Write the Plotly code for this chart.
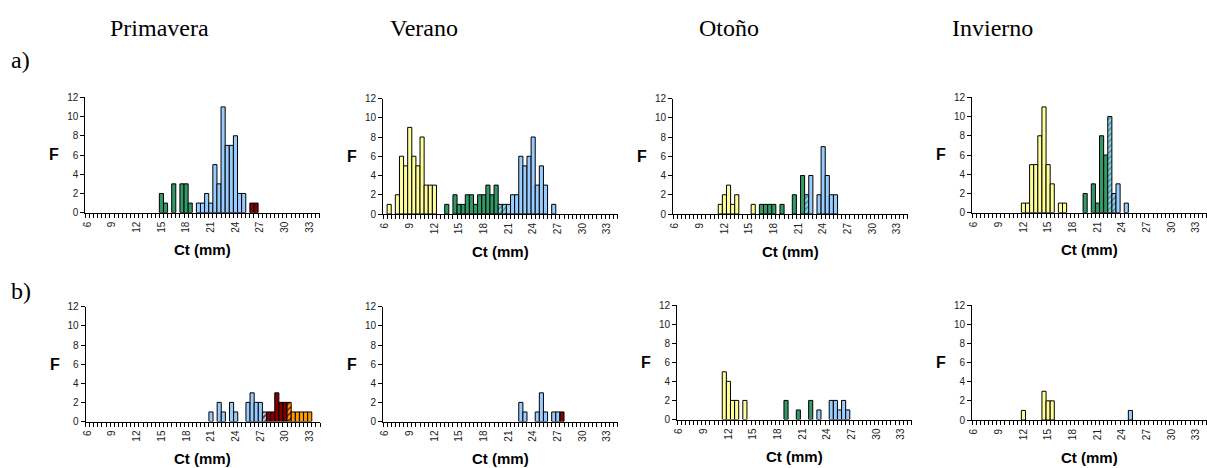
import plotly.graph_objects as go

W, H = 1207, 468

# Colours of the size groups
YELLOW = "#FFFF99"
GREEN = "#339966"
BLUE = "#99CCFF"
DARKRED = "#800000"
ORANGE = "#FF9900"

seasons = ["Primavera", "Verano", "Otoño", "Invierno"]
row_labels = ["a)", "b)"]
x_ticks = [6, 9, 12, 15, 18, 21, 24, 27, 30, 33]
y_ticks = [0, 2, 4, 6, 8, 10, 12]

# ---- a) Primavera ----
prim_a_green_ct = [15, 15.5, 16.5, 17.5, 18, 18.5]
prim_a_green_f = [2, 1, 3, 3, 3, 1]
prim_a_blue_ct = [19.5, 20, 20.5, 21, 21.5, 22, 22.5, 23, 23.5, 24, 24.5, 25]
prim_a_blue_f = [1, 1, 2, 1, 5, 3, 11, 7, 7, 8, 2, 2]
prim_a_red_ct = [26, 26.5]
prim_a_red_f = [1, 1]

# ---- a) Verano ----
ver_a_yellow_ct = [6.5, 7.5, 8, 8.5, 9, 9.5, 10, 10.5, 11, 11.5, 12]
ver_a_yellow_f = [1, 2, 6, 5, 9, 6, 5, 8, 3, 3, 3]
ver_a_green_ct = [13.5, 14.5, 15, 15.5, 16, 16.5, 17, 17.5, 18, 18.5, 19, 19.5]
ver_a_green_f = [1, 2, 1, 1, 2, 2, 1, 2, 2, 3, 2, 3]
ver_a_mix_ct = [20, 20.5]
ver_a_mix_f = [1, 1]
ver_a_blue_ct = [21, 21.5, 22, 22.5, 23, 23.5, 24, 24.5, 25, 25.5, 26.5]
ver_a_blue_f = [1, 2, 2, 6, 5, 6, 8, 3, 5, 3, 1]

# ---- a) Otoño ----
oto_a_yellow_ct = [11.5, 12, 12.5, 13, 13.5, 15.5]
oto_a_yellow_f = [1, 2, 3, 1, 2, 1]
oto_a_green_ct = [16.5, 17, 17.5, 18, 19, 20.5, 21.5]
oto_a_green_f = [1, 1, 1, 1, 1, 2, 4]
oto_a_mix_ct = [22]
oto_a_mix_f = [2]
oto_a_blue_ct = [22.5, 23.5, 24, 24.5, 25, 25.5]
oto_a_blue_f = [4, 2, 7, 4, 2, 2]

# ---- a) Invierno ----
inv_a_yellow_ct = [12, 12.5, 13, 13.5, 14, 14.5, 15, 15.5, 16.5, 17]
inv_a_yellow_f = [1, 1, 5, 5, 8, 11, 5, 3, 1, 1]
inv_a_green_ct = [19.5, 20.5, 21, 21.5, 22]
inv_a_green_f = [2, 3, 1, 8, 6]
inv_a_mix_ct = [22.5, 23]
inv_a_mix_f = [10, 2]
inv_a_blue_ct = [23.5, 24.5]
inv_a_blue_f = [3, 1]

# ---- b) Primavera ----
prim_b_blue_ct = [21, 22, 22.5, 23.5, 24, 25.5, 26, 26.5, 27]
prim_b_blue_f = [1, 2, 1, 2, 1, 2, 3, 2, 2]
prim_b_mix1_ct = [27.5]
prim_b_mix1_f = [1]
prim_b_red_ct = [28, 28.5, 29, 29.5, 30]
prim_b_red_f = [1, 1, 3, 2, 2]
prim_b_mix2_ct = [30.5]
prim_b_mix2_f = [2]
prim_b_orange_ct = [31, 31.5, 32, 32.5, 33]
prim_b_orange_f = [1, 1, 1, 1, 1]

# ---- b) Verano ----
ver_b_blue_ct = [22.5, 23, 24.5, 25, 25.5, 26.5, 27]
ver_b_blue_f = [2, 1, 1, 3, 1, 1, 1]
ver_b_red_ct = [27.5]
ver_b_red_f = [1]

# ---- b) Otoño ----
oto_b_yellow_ct = [11.5, 12, 12.5, 13, 14]
oto_b_yellow_f = [5, 4, 2, 2, 2]
oto_b_green_ct = [19, 20.5, 22]
oto_b_green_f = [2, 1, 2]
oto_b_blue_ct = [23, 24.5, 25, 25.5, 26, 26.5]
oto_b_blue_f = [1, 2, 2, 1, 2, 1]

# ---- b) Invierno ----
inv_b_yellow_ct = [12, 14.5, 15, 15.5]
inv_b_yellow_f = [1, 3, 2, 2]
inv_b_blue_ct = [25]
inv_b_blue_f = [1]

# series per panel: (ct, f, fill, hatch colour or None)
panels = [
    [(prim_a_green_ct, prim_a_green_f, GREEN, None),
     (prim_a_blue_ct, prim_a_blue_f, BLUE, None),
     (prim_a_red_ct, prim_a_red_f, DARKRED, None)],
    [(ver_a_yellow_ct, ver_a_yellow_f, YELLOW, None),
     (ver_a_green_ct, ver_a_green_f, GREEN, None),
     (ver_a_mix_ct, ver_a_mix_f, BLUE, GREEN),
     (ver_a_blue_ct, ver_a_blue_f, BLUE, None)],
    [(oto_a_yellow_ct, oto_a_yellow_f, YELLOW, None),
     (oto_a_green_ct, oto_a_green_f, GREEN, None),
     (oto_a_mix_ct, oto_a_mix_f, BLUE, GREEN),
     (oto_a_blue_ct, oto_a_blue_f, BLUE, None)],
    [(inv_a_yellow_ct, inv_a_yellow_f, YELLOW, None),
     (inv_a_green_ct, inv_a_green_f, GREEN, None),
     (inv_a_mix_ct, inv_a_mix_f, BLUE, GREEN),
     (inv_a_blue_ct, inv_a_blue_f, BLUE, None)],
    [(prim_b_blue_ct, prim_b_blue_f, BLUE, None),
     (prim_b_mix1_ct, prim_b_mix1_f, BLUE, DARKRED),
     (prim_b_red_ct, prim_b_red_f, DARKRED, None),
     (prim_b_mix2_ct, prim_b_mix2_f, ORANGE, DARKRED),
     (prim_b_orange_ct, prim_b_orange_f, ORANGE, None)],
    [(ver_b_blue_ct, ver_b_blue_f, BLUE, None),
     (ver_b_red_ct, ver_b_red_f, DARKRED, None)],
    [(oto_b_yellow_ct, oto_b_yellow_f, YELLOW, None),
     (oto_b_green_ct, oto_b_green_f, GREEN, None),
     (oto_b_blue_ct, oto_b_blue_f, BLUE, None)],
    [(inv_b_yellow_ct, inv_b_yellow_f, YELLOW, None),
     (inv_b_blue_ct, inv_b_blue_f, BLUE, None)],
]

# plot-area boxes in pixels: left, top (F=12), bottom (F=0)
PW = 234.5
boxes = [
    (85.3, 97.3, 212.7), (383.0, 98.5, 214.0), (673.0, 98.5, 214.0), (972.0, 97.3, 212.7),
    (85.5, 306.8, 421.5), (383.0, 306.8, 421.5), (677.0, 305.0, 419.5), (972.0, 305.0, 420.0),
]

fig = go.Figure()
AXFONT = "Liberation Sans, Arial, sans-serif"
SERIF = "Liberation Serif, Times New Roman, serif"


def label(text, px, py, font, xanchor="center"):
    """Paper-positioned text placed at pixel coordinates."""
    return dict(text=text, x=px / W, y=1 - py / H, xref="paper", yref="paper",
                xanchor=xanchor, yanchor="middle", showarrow=False, font=font)


annotations = []
for i, (series, (left, top, bottom)) in enumerate(zip(panels, boxes)):
    n = "" if i == 0 else str(i + 1)
    xa, ya = "x" + n, "y" + n
    for ct, f, fill, hatch in series:
        marker = dict(color=fill, line=dict(color="black", width=1))
        if hatch:
            marker["pattern"] = dict(shape="/", fgcolor=hatch, bgcolor=fill,
                                     fillmode="replace", size=4, solidity=0.35)
        fig.add_trace(go.Bar(x=ct, y=f, width=0.5, marker=marker,
                             xaxis=xa, yaxis=ya, showlegend=False,
                             hoverinfo="x+y"))
    fig.layout["xaxis" + n] = dict(
        domain=[left / W, min(1.0, (left + PW) / W)], anchor=ya, automargin=False,
        range=[5.75, 34.25], tickvals=x_ticks, ticks="",
        tickangle=-90, tickfont=dict(family=AXFONT, size=10, color="#222"),
        ticklabelstandoff=4,
        showline=True, linecolor="black", linewidth=1,
        showgrid=False, zeroline=False,
        minor=dict(ticks="outside", tick0=5.75, dtick=0.5, ticklen=4,
                   tickcolor="black", tickwidth=1, showgrid=False),
    )
    fig.layout["yaxis" + n] = dict(
        domain=[1 - bottom / H, 1 - top / H], anchor=xa, automargin=False,
        range=[0, 12], tickvals=y_ticks, ticks="outside", ticklen=4,
        tickcolor="black", tickfont=dict(family=AXFONT, size=10, color="#222"),
        showline=True, linecolor="black", linewidth=1,
        showgrid=False, zeroline=False,
    )
    # axis titles
    annotations.append(label("<b>F</b>", left - 31, (top + bottom) / 2,
                             dict(family=AXFONT, size=16, color="black")))
    annotations.append(label("<b>Ct (mm)</b>", left + PW / 2, bottom + 37,
                             dict(family=AXFONT, size=15, color="black")))

# season headers
for name, xl in zip(seasons, [108, 388, 697, 950]):
    annotations.append(label(name, xl, 28, dict(family=SERIF, size=24, color="black"),
                             xanchor="left"))
# row labels
for lab, yy in zip(row_labels, [60, 291]):
    annotations.append(label(lab, 9, yy, dict(family=SERIF, size=24, color="black"),
                             xanchor="left"))

fig.update_layout(
    width=W, height=H, margin=dict(l=0, r=0, t=0, b=0, autoexpand=False),
    paper_bgcolor="white", plot_bgcolor="white",
    barmode="overlay", annotations=annotations,
)

fig.write_html("out.html")
